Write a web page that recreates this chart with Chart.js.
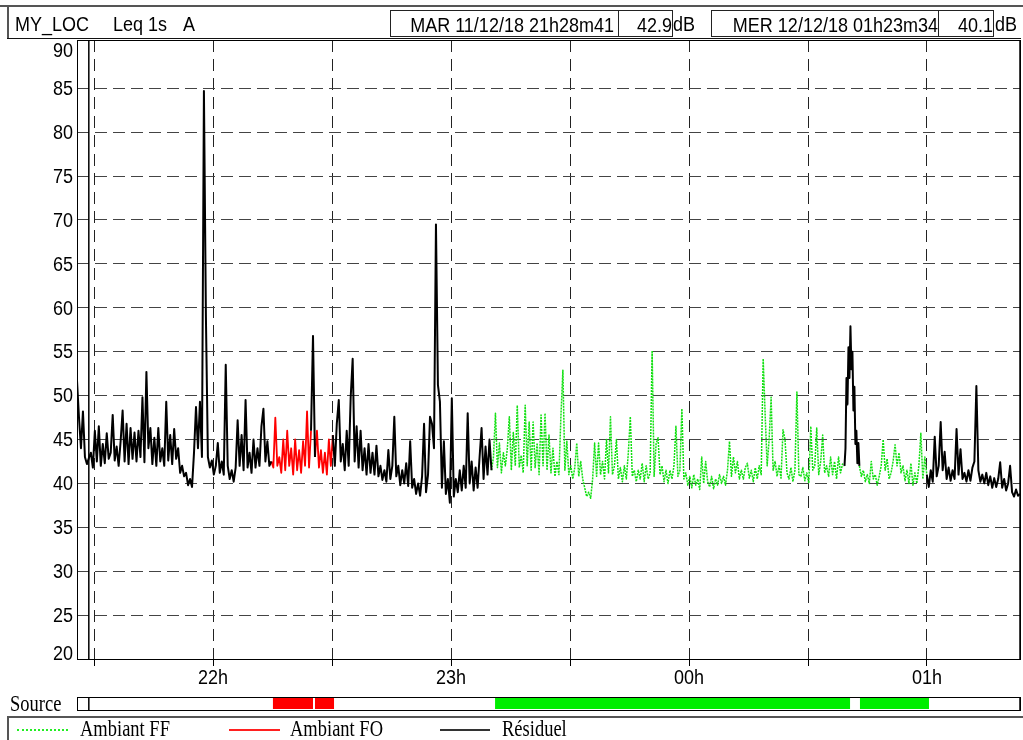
<!DOCTYPE html>
<html>
<head>
<meta charset="utf-8">
<script src="https://cdn.jsdelivr.net/npm/chart.js@4.4.1/dist/chart.umd.min.js"></script>
<style>
  body { margin: 0; background: #fff; }
  #wrap { position: relative; width: 1023px; height: 740px; overflow: hidden; }
  #noise { position: absolute; left: 0; top: 0; }
  .ln { position: absolute; background: #555; }
  .txt { position: absolute; font-family: 'Liberation Sans', Arial, sans-serif; font-size: 18px;
         line-height: 20px; height: 20px; white-space: nowrap; color: #000;
         transform: scaleY(1.15); transform-origin: 0 50%; }
  .ser { font-family: 'Liberation Serif', 'Times New Roman', serif; font-size: 18.5px; transform: scaleY(1.2); }
  .box { position: absolute; top: 10px; height: 27px; box-sizing: border-box; border: 1px solid #222;
         background: #fff; text-align: right; font-family: 'Liberation Sans', Arial, sans-serif;
         font-size: 18px; line-height: 28px; white-space: nowrap; }
  .box span { display: inline-block; transform: scaleY(1.15); }
</style>
</head>
<body>
<div id="wrap">
  <canvas id="noise" width="1023" height="740"></canvas>

  <!-- header -->
  <div class="ln" style="left:0;top:5px;width:1023px;height:2px"></div>
  <div class="ln" style="left:7px;top:5px;width:2px;height:34px"></div>
  <div class="ln" style="left:7px;top:38px;width:1014px;height:1px;background:#111"></div>
  <div class="txt" style="left:15px;top:14px">MY_LOC</div>
  <div class="txt" style="left:113px;top:14px">Leq 1s</div>
  <div class="txt" style="left:183px;top:14px">A</div>
  <div class="box" style="left:390px;width:229px;padding-right:4px"><span>MAR 11/12/18 21h28m41</span></div>
  <div class="box" style="left:618px;width:55px;padding-right:0"><span>42.9</span></div>
  <div class="txt" style="left:673px;top:14px">dB</div>
  <div class="box" style="left:711px;width:228px;padding-right:0"><span>MER 12/12/18 01h23m34</span></div>
  <div class="box" style="left:938px;width:56px;padding-right:0"><span>40.1</span></div>
  <div class="txt" style="left:995px;top:14px">dB</div>

  <!-- source row + legend -->
  <div class="txt ser" style="left:10px;top:694px">Source</div>
  <div class="ln" style="left:7px;top:716px;width:1016px;height:2px"></div>
  <div class="ln" style="left:7px;top:716px;width:2px;height:24px"></div>
  <div class="ln" style="left:17px;top:729px;width:51px;height:0;background:none;border-top:2px dotted #22ee22"></div>
  <div class="txt ser" style="left:80px;top:719px">Ambiant FF</div>
  <div class="ln" style="left:229px;top:729px;width:51px;height:2px;background:#ff2020"></div>
  <div class="txt ser" style="left:290px;top:719px">Ambiant FO</div>
  <div class="ln" style="left:440px;top:729px;width:50px;height:2px;background:#333"></div>
  <div class="txt ser" style="left:502px;top:719px">Résiduel</div>
</div>

<script>
// Leq 1s (dB(A)) - time in minutes after 21h00, one value every 30 s unless noted
const res1 = [
  51.7, 47.5, 44.0, 48.2, 43.0, 42.2, 42.9, 43.5, 41.8, 46.0,
  42.5, 46.5, 42.0, 44.5, 42.3, 45.7, 42.8, 43.5, 47.8, 42.6,
  44.2, 42.0, 44.8, 48.3, 42.5, 46.8, 42.2, 46.3, 42.8, 45.8,
  42.5, 46.0, 43.0, 49.8, 42.4, 52.7, 44.0, 46.3, 42.2, 45.2,
  42.0, 46.3, 42.5, 44.0, 42.0, 49.3, 42.6, 45.5, 42.2, 46.2,
  42.8, 44.0, 41.2, 42.0, 40.8, 41.2, 39.8, 40.5, 39.6, 43.5,
  48.7, 44.0, 49.3, 43.0, 84.7, 59.0, 43.0, 41.8, 42.6, 41.0,
  42.0, 44.6, 41.2, 42.5, 41.0, 53.5, 42.0, 40.5, 41.5, 40.2,
  41.8, 47.2, 42.0, 45.5, 41.5, 49.5, 41.8, 43.5, 41.2, 45.0,
  41.8, 44.0, 42.0, 46.5, 48.5, 42.5, 44.8, 42.0, 42.5
];
const fo1 = [
  42.5, 41.8, 47.5, 42.0, 43.0, 41.2, 45.0, 41.5, 46.0, 42.0,
  44.0, 41.0, 45.0, 41.5, 43.8, 41.2, 44.8, 42.0, 48.2, 41.8,
  46.0
];
const res2 = [46.0, 56.8, 43.0];
const fo2 = [43.0, 46.0, 41.8, 43.8, 41.2, 43.5, 41.0, 45.0, 42.0, 45.5];
const res3 = [
  45.5, 42.0, 46.8, 49.5, 42.5, 44.5, 41.5, 46.0, 42.0, 49.8,
  54.2, 42.5, 46.5, 41.8, 46.0, 41.5, 44.0, 41.0, 44.5, 41.2,
  43.5, 41.0, 44.3, 40.8, 42.0, 40.4, 41.5, 40.2, 43.8, 40.5,
  42.0, 47.6, 40.8, 42.0, 39.8, 41.5, 40.0, 42.3, 39.7, 44.8,
  39.5, 40.5, 38.8, 40.0, 38.6, 40.8, 46.8, 39.0, 41.0, 47.6,
  46.8, 44.0, 69.5, 51.2, 49.3, 39.5, 44.8, 38.8, 40.5, 37.8,
  49.7, 38.5, 40.5, 39.0, 41.5, 39.2, 42.0, 39.5, 48.0, 40.0,
  42.5, 39.2, 41.8, 39.5, 43.0, 46.3, 40.5, 44.2, 41.0, 45.0,
  41.5
];
const ff1 = [
  41.5, 43.0, 48.0, 41.8, 44.6, 41.2, 43.5, 42.0, 44.0, 47.6,
  41.5, 45.8, 42.0, 48.9, 41.8, 43.2, 41.2, 48.9, 42.0, 47.0,
  41.5, 47.0, 41.8, 44.6, 41.0, 47.8, 42.0, 48.0, 41.5, 45.5,
  41.2, 44.0, 40.8, 42.5, 41.0, 47.6, 52.9, 41.5, 44.8, 41.0,
  42.0, 40.5, 41.8, 44.6, 40.8, 42.5, 40.5, 39.5, 38.5, 39.0,
  38.3, 40.5, 44.6, 40.8, 44.6, 41.0, 42.5, 40.5, 45.0, 41.2,
  47.6, 41.0, 42.0, 45.0, 40.5, 41.8, 40.2, 42.0, 40.5, 43.5,
  47.6, 40.8, 41.5, 40.2, 41.5, 40.5, 42.3, 40.2, 42.0, 40.5,
  41.2, 55.1, 40.8, 44.5, 45.2, 41.0, 42.0, 40.2, 41.5, 40.0,
  41.5, 40.5, 42.0, 46.5, 40.8, 41.5, 48.5, 40.5, 41.2, 39.8,
  40.8, 39.5, 41.0, 39.8, 40.5, 39.3, 43.0, 40.0, 42.5, 40.2,
  39.6, 40.8, 39.4, 40.5, 39.8, 41.0, 40.0, 40.8, 39.8, 41.5,
  44.8, 40.8, 43.0, 41.2, 42.5, 40.5, 41.5, 40.5, 41.8, 42.3,
  40.6, 41.5, 40.2, 41.8, 40.5, 42.0, 41.0, 54.2, 47.8, 42.0,
  45.0, 49.8, 41.5, 42.5, 40.8, 42.0, 40.6, 46.1, 45.0, 41.2,
  40.5, 41.8, 40.2, 41.5, 50.4, 41.0, 40.8, 41.8, 40.3, 41.2,
  40.0, 46.5, 41.5, 42.0, 46.3, 41.0, 42.5, 45.5, 41.2, 42.0,
  40.8, 43.0, 41.0, 42.5, 40.5, 43.0, 41.2, 42.2, 42.0
];
// one value every 15 s around the 00h40 event
const res4 = [42.0, 44.0, 52.0, 49.0, 55.5, 52.0, 57.9, 53.0, 55.0, 48.3, 51.0, 44.5, 46.0, 42.3, 44.6, 42.0];
const ff2 = [
  42.0, 40.8, 41.5, 40.2, 41.0, 40.0, 42.5, 40.5, 41.0, 39.8,
  40.8, 42.0, 45.0, 41.5, 42.8, 40.5, 41.2, 42.5, 44.4, 42.0,
  43.5, 41.2, 42.0, 40.3, 41.5, 40.0, 42.3, 39.8, 41.2, 40.0,
  42.0, 45.7, 40.5, 43.0, 41.0
];
const res5 = [
  41.0, 39.6, 41.5, 40.2, 45.3, 40.8, 42.0, 47.0, 41.5, 43.6,
  40.5, 41.8, 40.3, 41.5, 40.5, 46.2, 41.0, 43.9, 40.5, 41.2,
  40.2, 41.5, 40.3, 41.8, 42.5, 51.1, 41.5, 40.2, 41.0, 40.0,
  41.2, 39.8, 40.8, 39.5, 40.6, 39.6, 40.5, 42.4, 39.5, 40.5,
  39.2, 40.0, 42.0, 39.0, 38.5, 39.3, 38.6, 38.8
];

const segments = [
  { series: 'res', t0: 25.7, dt: 0.5, values: res1 },
  { series: 'fo', t0: 74.7, dt: 0.5, values: fo1 },
  { series: 'res', t0: 84.7, dt: 0.5, values: res2 },
  { series: 'fo', t0: 85.7, dt: 0.5, values: fo2 },
  { series: 'res', t0: 90.2, dt: 0.5, values: res3 },
  { series: 'ff', t0: 130.2, dt: 0.5, values: ff1 },
  { series: 'res', t0: 219.2, dt: 0.25, values: res4 },
  { series: 'ff', t0: 222.95, dt: 0.5, values: ff2 },
  { series: 'res', t0: 239.95, dt: 0.5, values: res5 }
];

// source coding strip (start, end in minutes after 21h00)
const sourceFO = [[75.1, 85.2], [85.7, 90.5]];
const sourceFF = [[131.1, 220.6], [223.1, 240.5]];
// cursors: MAR 21h28m41 and MER 01h23m34
const cursors = [28.68, 263.57];

const xTicks = [30, 60, 90, 120, 150, 180, 210, 240];
const xLabels = ['', '22h', '', '23h', '', '00h', '', '01h'];
const yTicks = [20, 25, 30, 35, 40, 45, 50, 55, 60, 65, 70, 75, 80, 85, 90];

function buildSeries(name) {
  const pts = [];
  segments.filter(s => s.series === name).forEach(s => {
    if (pts.length) pts.push({ x: s.t0, y: null });
    s.values.forEach((v, i) => pts.push({ x: s.t0 + i * s.dt, y: v }));
  });
  return pts;
}

const SANS = "18px 'Liberation Sans', Arial, sans-serif";

function stretchText(ctx, text, px, py, align, sy) {
  ctx.save();
  ctx.translate(px, py);
  ctx.scale(1, sy);
  ctx.font = SANS;
  ctx.textAlign = align;
  ctx.textBaseline = 'middle';
  ctx.fillStyle = '#000';
  ctx.fillText(text, 0, 0);
  ctx.restore();
}

// frame, axis labels, source strip and cursors
const sheet = {
  id: 'sheet',
  afterDraw(chart) {
    const { ctx, chartArea: a, scales: { x, y } } = chart;
    ctx.save();
    ctx.strokeStyle = '#000';
    ctx.lineWidth = 1;
    ctx.strokeRect(a.left + 0.5, a.top + 0.5, a.right - a.left - 1, a.bottom - a.top);

    yTicks.forEach(v => {
      let py = y.getPixelForValue(v) + 1;
      py = Math.min(Math.max(py, a.top + 11), a.bottom - 5);
      stretchText(ctx, String(v), a.left - 4, py, 'right', 1.15);
    });
    xTicks.forEach((v, i) => {
      if (xLabels[i]) stretchText(ctx, xLabels[i], x.getPixelForValue(v), a.bottom + 19, 'center', 1.15);
    });

    // source strip
    const sTop = a.bottom + 38, sH = 13;
    ctx.fillStyle = '#fff';
    ctx.fillRect(a.left, sTop, a.right - a.left, sH);
    const fillSpans = (spans, color) => {
      ctx.fillStyle = color;
      spans.forEach(([t0, t1]) => {
        const p0 = x.getPixelForValue(t0), p1 = x.getPixelForValue(t1);
        ctx.fillRect(p0, sTop + 1, p1 - p0, sH - 2);
      });
    };
    fillSpans(sourceFO, '#ff0000');
    fillSpans(sourceFF, '#00ee00');
    ctx.strokeStyle = '#000';
    ctx.strokeRect(a.left + 0.5, sTop + 0.5, a.right - a.left - 1, sH);

    // cursors
    ctx.lineWidth = 1.5;
    cursors.forEach(t => {
      const px = Math.min(x.getPixelForValue(t), a.right - 1);
      ctx.beginPath();
      ctx.moveTo(px, a.top);
      ctx.lineTo(px, a.bottom);
      ctx.moveTo(px, sTop);
      ctx.lineTo(px, sTop + sH);
      ctx.stroke();
    });
    ctx.restore();
  }
};

new Chart(document.getElementById('noise'), {
  type: 'line',
  data: {
    datasets: [
      { label: 'Résiduel', data: buildSeries('res'), borderColor: '#000', borderWidth: 2, order: 0 },
      { label: 'Ambiant FO', data: buildSeries('fo'), borderColor: '#ff0000', borderWidth: 1.8, order: 1 },
      { label: 'Ambiant FF', data: buildSeries('ff'), borderColor: '#11e011', borderWidth: 1.5,
        borderDash: [2, 1], order: 2 }
    ]
  },
  options: {
    responsive: false,
    animation: false,
    devicePixelRatio: 1,
    layout: { padding: { left: 0, top: 40, right: 2, bottom: 51 } },
    elements: {
      point: { radius: 0 },
      line: { tension: 0, borderJoinStyle: 'round' }
    },
    plugins: {
      legend: { display: false },
      tooltip: { enabled: false }
    },
    scales: {
      x: {
        type: 'linear',
        min: 25.7,
        max: 263.7,
        afterBuildTicks: s => { s.ticks = xTicks.map(v => ({ value: v })); },
        afterFit: s => { s.height = 30; },
        ticks: { display: false },
        grid: { color: '#222', lineWidth: 1, drawTicks: true, tickLength: 7, tickColor: '#000', tickWidth: 1 },
        border: { display: false, dash: [12, 7] }
      },
      y: {
        min: 20,
        max: 90.5,
        afterBuildTicks: s => { s.ticks = yTicks.map(v => ({ value: v })); },
        afterFit: s => { s.width = 77; },
        ticks: { display: false },
        grid: {
          color: c => (c.tick && (c.tick.value === 20 || c.tick.value === 90)) ? 'rgba(0,0,0,0)' : '#444',
          lineWidth: 1,
          drawTicks: false
        },
        border: { display: false, dash: [12, 6] }
      }
    }
  },
  plugins: [sheet]
});
</script>
</body>
</html>
